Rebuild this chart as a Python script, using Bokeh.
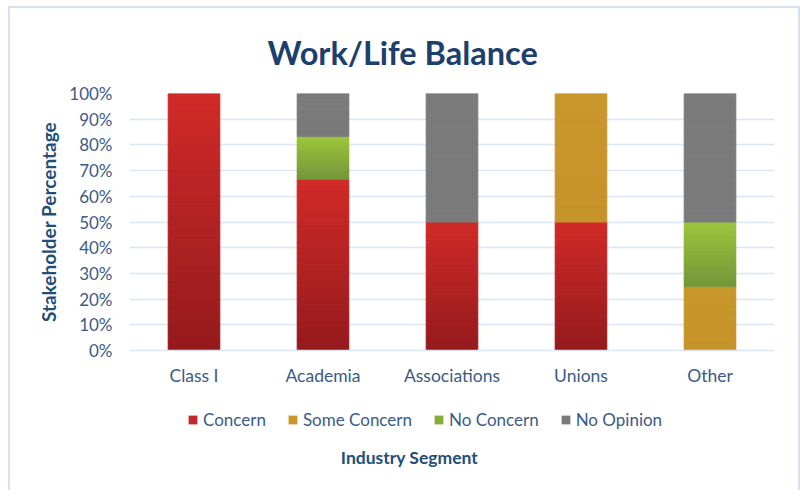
from bokeh.plotting import figure
from bokeh.layouts import column
from bokeh.models import (ColumnDataSource, FactorRange, FixedTicker, PrintfTickFormatter,
                          Legend, LegendItem, Label)
from bokeh.embed import file_html
from bokeh.resources import INLINE

# ---- data ----
categories = ["Class I", "Academia", "Associations", "Unions", "Other"]
concern = [100, 66.67, 50, 50, 0]
some_concern = [0, 0, 0, 50, 25]
no_concern = [0, 16.67, 0, 0, 25]
no_opinion = [0, 16.67, 50, 0, 50]
series_names = ["Concern", "Some Concern", "No Concern", "No Opinion"]
y_ticks = [0, 10, 20, 30, 40, 50, 60, 70, 80, 90, 100]

# ---- styles ----
grad = {
    "Concern": ("#941a1d", "#d02a27"),
    "Some Concern": ("#c6932a", "#c8972b"),
    "No Concern": ("#739639", "#9cc63c"),
    "No Opinion": ("#7a7a7a", "#7b7b7b"),
}
legend_col = {"Concern": "#c0282a", "Some Concern": "#c8962a",
              "No Concern": "#86ad3a", "No Opinion": "#7b7b7b"}
FONT = "Lato"
TXT = "#3b5b86"
GRID = "#dce6f2"
N = 30
W = 788


def hex2rgb(h):
    h = h.lstrip("#")
    return tuple(int(h[i:i + 2], 16) for i in (0, 2, 4))


def lerp(c0, c1, t):
    a, b = hex2rgb(c0), hex2rgb(c1)
    return "#%02x%02x%02x" % tuple(int(round(a[i] + (b[i] - a[i]) * t)) for i in range(3))


p = figure(x_range=FactorRange(*categories, range_padding=0), y_range=(0, 100),
           width=W, height=389, output_backend="svg", toolbar_location=None,
           min_border_left=119, min_border_right=24, min_border_top=84, min_border_bottom=47)

data_series = [concern, some_concern, no_concern, no_opinion]
bottoms = [0.0] * len(categories)
for name, vals in zip(series_names, data_series):
    xs, b0, t0, cols = [], [], [], []
    for i, c in enumerate(categories):
        v = vals[i]
        if v > 0:
            lo = bottoms[i]
            for k in range(N):
                xs.append(c)
                b0.append(lo + v * k / N)
                t0.append(lo + v * (k + 1) / N)
                cols.append(lerp(grad[name][0], grad[name][1], (k + 0.5) / N))
        bottoms[i] += v
    src = ColumnDataSource(dict(x=xs, bottom=b0, top=t0, color=cols))
    p.vbar(x="x", bottom="bottom", top="top", width=0.4, source=src,
           fill_color="color", line_color="color", line_width=1)

p.title.text = "Work/Life Balance"
p.title.align = "left"
p.title.text_font = FONT
p.title.text_font_size = "32.5px"
p.title.text_font_style = "bold"
p.title.text_color = "#1c3f6e"
p.title.standoff = 44
p.title.offset = 138

p.outline_line_color = None
p.xgrid.grid_line_color = None
p.ygrid.grid_line_color = GRID
p.ygrid.grid_line_width = 1.5

p.yaxis.ticker = FixedTicker(ticks=y_ticks)
p.yaxis.formatter = PrintfTickFormatter(format="%d%%")
p.yaxis.axis_line_color = None
p.yaxis.major_tick_line_color = None
p.yaxis.minor_tick_line_color = None
p.yaxis.major_label_standoff = 11
p.yaxis.major_label_text_font = FONT
p.yaxis.major_label_text_font_size = "17px"
p.yaxis.major_label_text_color = TXT
p.yaxis.axis_label = "Stakeholder Percentage"
p.yaxis.axis_label_text_font = FONT
p.yaxis.axis_label_text_font_size = "19px"
p.yaxis.axis_label_text_font_style = "bold"
p.yaxis.axis_label_text_color = "#1f4e79"
p.yaxis.axis_label_standoff = 6

p.xaxis.axis_line_color = GRID
p.xaxis.axis_line_width = 1.5
p.xaxis.major_tick_line_color = None
p.xaxis.minor_tick_line_color = None
p.xaxis.major_label_standoff = 8
p.xaxis.major_label_text_font = FONT
p.xaxis.major_label_text_font_size = "17.5px"
p.xaxis.major_label_text_color = TXT

# ---- lower strip: legend and x-axis title ----
H2 = 93
p2 = figure(x_range=(0, 645), y_range=(0, H2), width=W, height=H2, output_backend="svg",
            toolbar_location=None, min_border=0, min_border_left=119, min_border_right=24,
            min_border_top=0, min_border_bottom=0, outline_line_color=None)
p2.axis.visible = False
p2.grid.visible = False
items = []
for name in series_names:
    # one off-screen point so that the legend swatch has a row to draw from
    r = p2.vbar(x=[-500], bottom=[0], top=[0], width=1, fill_color=legend_col[name],
                line_color=None)
    items.append(LegendItem(label=name, renderers=[r]))
legend = Legend(items=items, orientation="horizontal", location=(58, 60),
                glyph_width=11, glyph_height=11, label_text_font=FONT,
                label_text_font_size="17px", label_text_color=TXT,
                label_standoff=5, spacing=21, padding=2, margin=0,
                border_line_color=None, background_fill_alpha=0)
p2.add_layout(legend)
p2.add_layout(Label(x=280, y=33, text="Industry Segment", text_align="center",
                    text_baseline="middle", text_font=FONT, text_font_size="17.5px",
                    text_font_style="bold", text_color="#1f4e79"))

layout = column(p, p2, spacing=0,
                styles={"border-top": "2px solid #d6e2f0", "border-left": "2px solid #d6e2f0",
                        "border-right": "2px solid #d6e2f0", "margin-left": "8px",
                        "margin-top": "6px"})

open("out.html", "w").write(file_html(layout, INLINE))
